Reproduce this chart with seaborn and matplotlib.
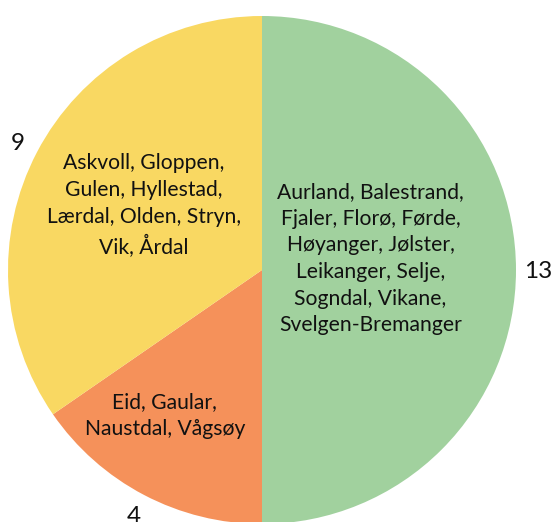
import numpy as np
import matplotlib
matplotlib.use('Agg')
import matplotlib.pyplot as plt
import seaborn as sns

# Data
counts = [13, 4, 9]
count_labels = ['13', '4', '9']
groups = [
    'Aurland, Balestrand,\nFjaler, Florø, Førde,\nHøyanger, Jølster,\nLeikanger, Selje,\nSogndal, Vikane,\nSvelgen-Bremanger',
    'Eid, Gaular,\nNaustdal, Vågsøy',
    'Askvoll, Gloppen,\nGulen, Hyllestad,\nLærdal, Olden, Stryn,\nVik, Årdal',
]
colors = ['#a1d19e', '#f5915a', '#f9d862']

sns.set_theme(style='white')
plt.rcParams['font.family'] = ['Lato', 'DejaVu Sans']

fig = plt.figure(figsize=(5.52, 5.22), dpi=100)
ax = fig.add_axes([0, 0, 1, 1])

# pie drawn in pixel-like data units
cx, cy, r = 262, 252, 254
wedges, texts = ax.pie(counts, labels=count_labels, colors=colors, startangle=90,
                       counterclock=False, center=(cx, cy), radius=r,
                       labeldistance=1.087, textprops={'fontsize': 17.5, 'color': '#111111'},
                       wedgeprops={'linewidth': 0})
for t in texts:
    t.set_ha('center')
    t.set_va('center_baseline')

# inner group labels, placed along each wedge's mid-angle
inner = [(0.43, 6), (0.69, -6), (0.53, -1)]
for w, txt, (frac, dang) in zip(wedges, groups, inner):
    ang = np.deg2rad((w.theta1 + w.theta2) / 2 + dang)
    ax.text(cx + frac * r * np.cos(ang), cy + frac * r * np.sin(ang), txt,
            ha='center', va='center', fontsize=15.2, color='#111111', linespacing=1.42)

ax.set_xlim(0, 552)
ax.set_ylim(0, 522)
ax.set_aspect('equal')
ax.axis('off')

plt.savefig('out.png', dpi=100)
